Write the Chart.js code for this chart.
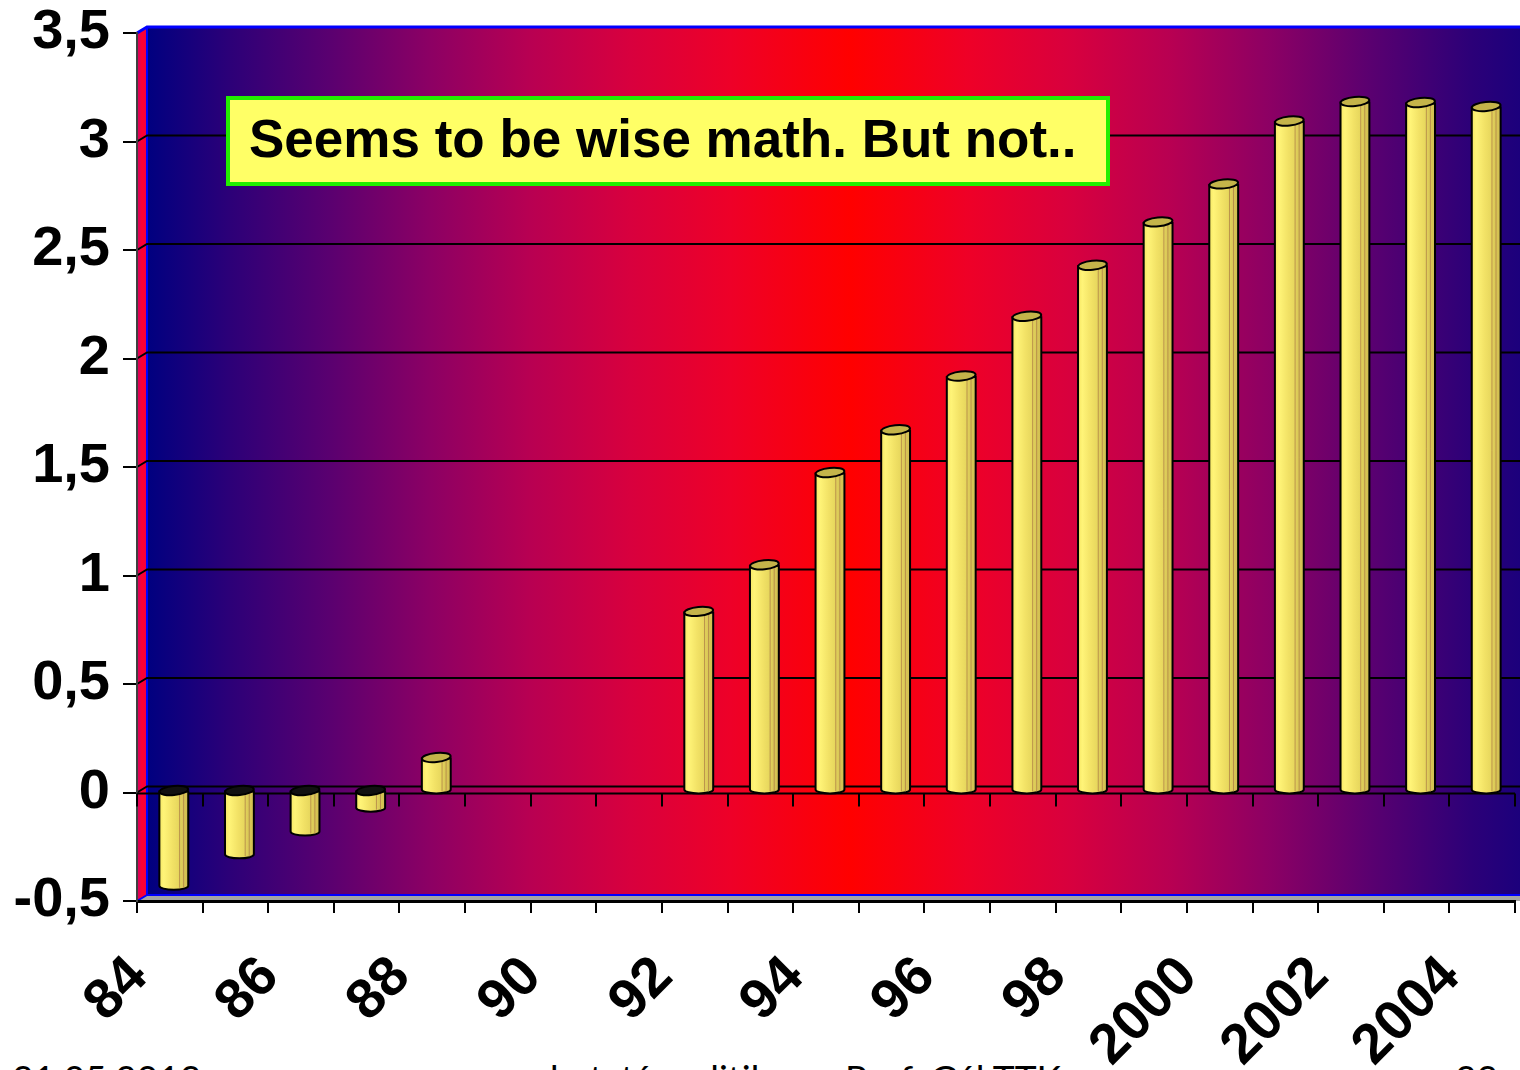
<!DOCTYPE html>
<html>
<head>
<meta charset="utf-8">
<script src="https://cdn.jsdelivr.net/npm/chart.js@4.4.1/dist/chart.umd.min.js"></script>
<style>
html,body{margin:0;padding:0;background:#fff;width:1520px;height:1070px;overflow:hidden}
#wrap{position:absolute;left:0;top:0;width:1520px;height:1070px;z-index:2}
.foot{position:absolute;top:1058px;font:37px Lato,'Open Sans',sans-serif;line-height:40px;color:#000;white-space:nowrap;z-index:1}
</style>
</head>
<body>
<div class="foot" id="f-date" style="left:12px"></div>
<div class="foot" id="f-mid" style="left:550px"></div>
<div class="foot" id="f-prof" style="left:845px"></div>
<div class="foot" id="f-page" style="left:1455px"></div>
<div id="wrap"><canvas id="c"></canvas></div>
<script>
'use strict';
// years on the category axis (only every second one is labelled)
const YEARS=['84','85','86','87','88','89','90','91','92','93','94','95','96','97','98','99','2000','2001','2002','2003','2004'];
// bar heights (89-91 have no bar)
const VALUES=[-0.43,-0.285,-0.18,-0.07,0.157,null,null,null,0.83,1.045,1.47,1.667,1.915,2.19,2.425,2.625,2.8,3.09,3.18,3.175,3.157];
const Y_MIN=-0.5, Y_MAX=3.5, Y_STEP=0.5;
const NOTE='Seems to be wise math. But not..';
const FOOT_DATE='31.05.2013', FOOT_MID='kutatáspolitika', FOOT_PROF='Prof. Gál TTK', FOOT_PAGE='33';

document.getElementById('f-date').textContent=FOOT_DATE;
document.getElementById('f-mid').textContent=FOOT_MID;
document.getElementById('f-prof').textContent=FOOT_PROF;
document.getElementById('f-page').textContent=FOOT_PAGE;

const DX=10, DY=6; // 3d depth of the wall
const WALL_STOPS=[[0,'#000080'],[0.06,'#2c0078'],[0.133,'#5a0070'],[0.206,'#8c0064'],[0.279,'#b80052'],[0.352,'#d8003e'],[0.425,'#ee0028'],[0.512,'#ff0000'],[0.6,'#ee0028'],[0.672,'#d8003e'],[0.745,'#b80052'],[0.818,'#8c0064'],[0.891,'#5a0070'],[0.964,'#2c0078'],[1,'#1c007c']];
const FONT="'Liberation Sans', Arial, sans-serif";

function line(ctx,pts,col,w){ ctx.beginPath(); ctx.moveTo(pts[0][0],pts[0][1]); for(let i=1;i<pts.length;i++) ctx.lineTo(pts[i][0],pts[i][1]); ctx.strokeStyle=col; ctx.lineWidth=w; ctx.stroke(); }

const wall={id:'wall',
  beforeDraw(chart){
    const {ctx,chartArea:a,scales:{y}}=chart;
    const L=a.left, R=chart.width, T=a.top, B=a.bottom;
    ctx.save();
    // back wall
    const g=ctx.createLinearGradient(L+DX,0,R,0);
    WALL_STOPS.forEach(s=>g.addColorStop(s[0],s[1]));
    ctx.fillStyle=g; ctx.fillRect(L+DX,T-DY,R-L-DX,B-T);
    // side wall
    ctx.beginPath(); ctx.moveTo(L,T); ctx.lineTo(L+DX,T-DY); ctx.lineTo(L+DX,B-DY); ctx.lineTo(L,B); ctx.closePath();
    const sg=ctx.createLinearGradient(L,0,L+DX,0); sg.addColorStop(0,'#d0006a'); sg.addColorStop(0.5,'#ff0030'); sg.addColorStop(1,'#f00040');
    ctx.fillStyle=sg; ctx.fill();
    // floor
    ctx.beginPath(); ctx.moveTo(L,B); ctx.lineTo(L+DX,B-DY); ctx.lineTo(R,B-DY); ctx.lineTo(R,B); ctx.closePath();
    ctx.fillStyle='#a4a4a4'; ctx.fill();
    // wall edges
    line(ctx,[[L,T],[L+DX,T-DY],[R,T-DY]],'#0000ff',3);
    line(ctx,[[L+DX,T-DY],[L+DX,B-DY],[R,B-DY]],'#0000ff',2);
    line(ctx,[[L,B],[L+DX,B-DY]],'#0000ff',2);
    // back grid lines
    for(let v=Y_MIN+Y_STEP; v<Y_MAX-1e-9; v+=Y_STEP){
      const yy=y.getPixelForValue(v);
      line(ctx,[[L,yy],[L+DX,yy-DY],[R,yy-DY]],'#000',2);
    }
    ctx.restore();
  },
  beforeDatasetsDraw(chart){
    const {ctx,chartArea:a,scales:{x,y}}=chart;
    const y0=y.getPixelForValue(0)+1;
    ctx.save();
    line(ctx,[[a.left,y0],[a.right,y0]],'#000',2);
    for(let i=0;i<=YEARS.length;i++){
      const xx=Math.round(x.getPixelForValue(i-0.5));
      line(ctx,[[xx,y0],[xx,y0+13]],'#000',2);
    }
    ctx.restore();
  },
  afterDatasetsDraw(chart){
    const {ctx}=chart;
    const meta=chart.getDatasetMeta(0);
    ctx.save();
    meta.data.forEach((el,i)=>{
      if(VALUES[i]==null) return;
      const p=el.getProps(['x','y','base','width'],true);
      const cx=p.x+4, w=p.width, l=cx-w/2, r=cx+w/2, ry=4;
      const neg=VALUES[i]<0;
      const top=neg?p.base-2:p.y, bot=neg?p.y:p.base-2;
      const g=ctx.createLinearGradient(l,0,r,0);
      g.addColorStop(0,'#f6e864'); g.addColorStop(0.15,'#fff478'); g.addColorStop(0.45,'#f2e266');
      g.addColorStop(0.65,'#e8d85e'); g.addColorStop(0.78,'#dccb58'); g.addColorStop(1,'#d0bc50');
      ctx.beginPath(); ctx.moveTo(l,top); ctx.lineTo(l,bot);
      ctx.ellipse(cx,bot,w/2,ry,0,Math.PI,0,true);
      ctx.lineTo(r,top); ctx.closePath();
      ctx.fillStyle=g; ctx.fill();
      ctx.strokeStyle='#000'; ctx.lineWidth=2; ctx.stroke();
      // thin seams of the cylinder
      [0.7,0.84].forEach(f=>line(ctx,[[l+w*f,top+2],[l+w*f,bot+2]],'rgba(170,120,70,0.7)',1));
      // cap
      ctx.beginPath(); ctx.ellipse(cx,top-1,w/2,ry+0.5,-0.1,0,Math.PI*2);
      ctx.fillStyle=neg?'#111':'#c4b44a'; ctx.fill();
      ctx.strokeStyle='#000'; ctx.lineWidth=2; ctx.stroke();
    });
    ctx.restore();
  },
  afterDraw(chart){
    const {ctx}=chart;
    ctx.save();
    ctx.fillStyle='#ffff66'; ctx.fillRect(228,98,880,86);
    ctx.strokeStyle='#22ee00'; ctx.lineWidth=4; ctx.strokeRect(228,98,880,86);
    ctx.fillStyle='#000'; ctx.font='bold 53px '+FONT; ctx.textBaseline='middle'; ctx.textAlign='left';
    ctx.fillText(NOTE,249,142);
    ctx.restore();
  }
};

new Chart(document.getElementById('c'),{
  type:'bar',
  data:{labels:YEARS,datasets:[{data:VALUES,backgroundColor:'rgba(0,0,0,0)',borderWidth:0,barPercentage:0.44,categoryPercentage:1}]},
  options:{responsive:true,maintainAspectRatio:false,animation:false,events:[],
    layout:{padding:{top:33,right:5,left:0,bottom:0}},
    plugins:{legend:{display:false},tooltip:{enabled:false}},
    scales:{
      x:{offset:true,
        afterFit(s){ s.height=169; s.paddingLeft=0; s.paddingRight=0; },
        grid:{offset:true,drawOnChartArea:false,color:'#000',lineWidth:2,tickLength:12},
        border:{display:true,color:'#000',width:3},
        ticks:{autoSkip:false,maxRotation:45,minRotation:45,labelOffset:-31,padding:31,color:'#000',
          font:{family:FONT,size:56,weight:'bold'},
          callback:(v,i)=>i%2===0?YEARS[i]:''}},
      y:{min:Y_MIN,max:Y_MAX,
        afterFit(s){ s.width=137; s.paddingTop=0; s.paddingBottom=0; },
        grid:{drawOnChartArea:false,color:'#000',lineWidth:2,tickLength:14},
        border:{display:true,color:'#404040',width:2},
        ticks:{stepSize:Y_STEP,padding:13,color:'#000',font:{family:FONT,size:56,weight:'bold'},
          callback:v=>String(v).replace('.',',')}}
    }
  },
  plugins:[wall]
});
</script>
</body>
</html>
